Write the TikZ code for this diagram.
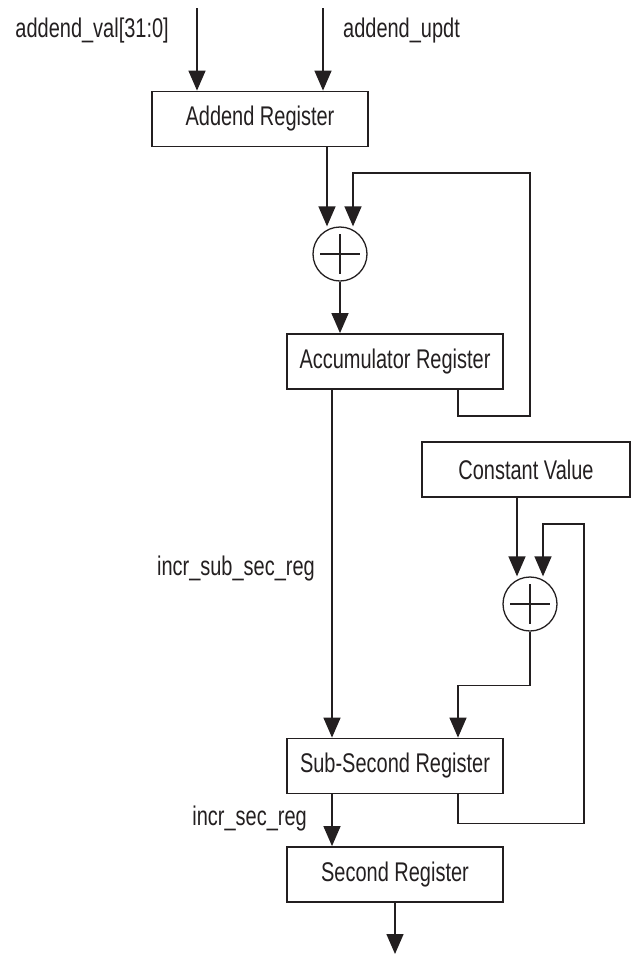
\documentclass[tikz,border=0pt]{standalone}
\usepackage{fontspec}
\setmainfont{Liberation Sans}[FakeStretch=0.74]
\usetikzlibrary{arrows.meta}
\definecolor{ink}{HTML}{231F20}

\begin{document}
\begin{tikzpicture}[x=1pt, y=-1pt, >={Triangle[length=20pt,width=17pt]},
  font=\fontsize{27}{32}\selectfont, color=ink,
  reg/.style={draw, line width=1.8pt, minimum width=216pt, minimum height=55pt, inner sep=0pt},
  adder/.style={draw, circle, line width=1.3pt, minimum size=54pt, inner sep=0pt},
  wire/.style={line width=1.4pt},
  lbl/.style={inner sep=0pt, anchor=base east}]
  \useasboundingbox (0,0) rectangle (631,954);

  % blocks
  \node[reg] (addend) at (260,119) {Addend Register};
  \node[adder] (sum1) at (340,254) {};
  \node[reg] (accum) at (395,361.5) {Accumulator Register};
  \node[reg, minimum width=208pt] (const) at (526,469.5) {Constant Value};
  \node[adder] (sum2) at (530,604) {};
  \node[reg] (subsec) at (395,766) {Sub-Second Register};
  \node[reg] (second) at (395,874.5) {Second Register};

  % plus signs
  \draw[wire] (sum1.center) ++(-20,0) -- ++(40,0);
  \draw[wire] (sum1.center) ++(0,-20) -- ++(0,40);
  \draw[wire] (sum2.center) ++(-20,0) -- ++(40,0);
  \draw[wire] (sum2.center) ++(0,-20) -- ++(0,40);

  % inputs
  \coordinate (in1) at (197,8);
  \coordinate (in2) at (323,8);
  \draw[wire,->] (in1) -- (in1 |- addend.north);
  \draw[wire,->] (in2) -- (in2 |- addend.north);
  \node[lbl] (valtxt) at (169,37) {addend\_val[31:0]};
  \node[lbl, anchor=base west] (updttxt) at (343,37) {addend\_updt};

  % accumulator loop
  \coordinate (aout) at ([xshift=67pt]addend.south);
  \draw[wire,->] (aout) -- (aout |- sum1.north);
  \draw[wire,->] (sum1.south) -- (sum1.south |- accum.north);
  \coordinate (fb1) at (530,173);
  \draw[wire,->] ([xshift=63pt]accum.south) -- ++(0,26) -| (fb1) -| ([xshift=13pt]sum1.north);

  % sub-second path
  \draw[wire,->] ([xshift=-63pt]accum.south) -- ([xshift=-63pt]subsec.north);
  \node[lbl] (subtxt) at (315,575) {incr\_sub\_sec\_reg};
  \coordinate (cout) at ([xshift=-9pt]const.south);
  \draw[wire,->] (cout) -- (cout |- sum2.north);
  \draw[wire,->] (sum2.south) -- ++(0,54) -| ([xshift=63pt]subsec.north);
  \coordinate (fb2) at (584,524);
  \draw[wire,->] ([xshift=63pt]subsec.south) -- ++(0,29) -| (fb2) -| ([xshift=13pt]sum2.north);

  % seconds
  \draw[wire,->] ([xshift=-63pt]subsec.south) -- ([xshift=-63pt]second.north);
  \node[lbl] (sectxt) at (307,825) {incr\_sec\_reg};
  \coordinate (out) at (395,954);
  \draw[wire,->] (second.south) -- (out);
\end{tikzpicture}
\end{document}
